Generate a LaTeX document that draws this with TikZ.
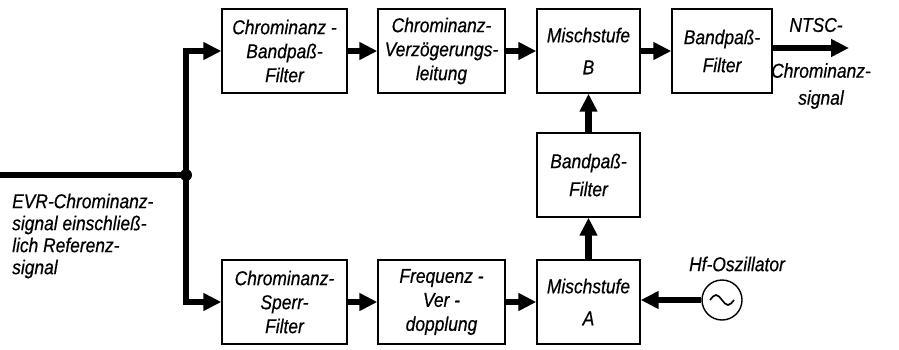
\documentclass[tikz,border=0pt]{standalone}
\usepackage{fontspec}
\newfontfamily\lbl[FakeStretch=0.87,FakeBold=0.5]{Liberation Sans}
\usetikzlibrary{arrows.meta}
\tikzset{
  blk/.style={draw, line width=1.4pt, minimum width=#1, minimum height=84pt, inner sep=0pt, align=center, font=\lbl\itshape\fontsize{20}{24}\selectfont},
  blk/.default=103pt,
  lab/.style={inner sep=0pt, font=\lbl\itshape\fontsize{20}{22}\selectfont},
  conn/.style={line width=6.5pt, -{Triangle[length=18pt,width=17pt]}},
  wire/.style={line width=6.5pt}
}
\begin{document}
\begin{tikzpicture}[x=1pt,y=-1pt]
\useasboundingbox (0,0) rectangle (899,349);
% top row
\node[blk=125pt] (b1) at (284.5,51) {Chrominanz -\\Bandpaß-\\Filter};
\node[blk=127pt] (b2) at (441.5,51) {Chrominanz-\\Verzögerungs-\\leitung};
\node[blk=103pt] (mb) at (588.5,51) {Mischstufe\\[8pt]B};
\node[blk=100pt] (bp2) at (722,51) {Bandpaß-\\[4pt]Filter};
% middle
\node[blk=103pt] (bpm) at (588.5,175) {Bandpaß-\\[4pt]Filter};
% bottom row
\node[blk=125pt] (s1) at (284.5,302) {Chrominanz-\\Sperr-\\Filter};
\node[blk=127pt] (s2) at (441.5,302) {Frequenz -\\Ver -\\dopplung};
\node[blk=103pt] (ma) at (588.5,302) {Mischstufe\\[8pt]A};
\node[draw, circle, line width=1.4pt, minimum size=40pt, inner sep=0pt] (osc) at (722,300) {};
\draw[line width=1.6pt] ([xshift=-12pt]osc.center) sin ++(6,-5) cos ++(6,5) sin ++(6,5) cos ++(6,-5);
% labels
\node[lab, anchor=west, align=left] (inl) at (12,236) {EVR-Chrominanz-\\signal einschließ-\\lich Referenz-\\signal};
\node[lab] (ntsc) at (816,25) {NTSC-};
\node[lab, align=center] (outl) at (821,86) {Chrominanz-\\[5pt]signal};
\node[lab] (hf) at (737,264) {Hf-Oszillator};
% connectors
\coordinate (in) at (0,175);
\coordinate (j) at (186,175);
\coordinate (out) at (849,48);
\draw[wire] (in) -- (j);
\fill (j) circle (6pt);
\draw[conn] (j) |- (b1.west);
\draw[conn] (j) |- (s1.west);
\draw[conn] (b1) -- (b2);
\draw[conn] (b2) -- (mb);
\draw[conn] (mb) -- (bp2);
\draw[conn] (bp2.east |- out) -- (out);
\draw[conn] (s1) -- (s2);
\draw[conn] (s2) -- (ma);
\draw[conn] (osc.west) -- (ma.east |- osc.west);
\draw[conn] (ma) -- (bpm);
\draw[conn] (bpm) -- (mb);
\end{tikzpicture}
\end{document}
